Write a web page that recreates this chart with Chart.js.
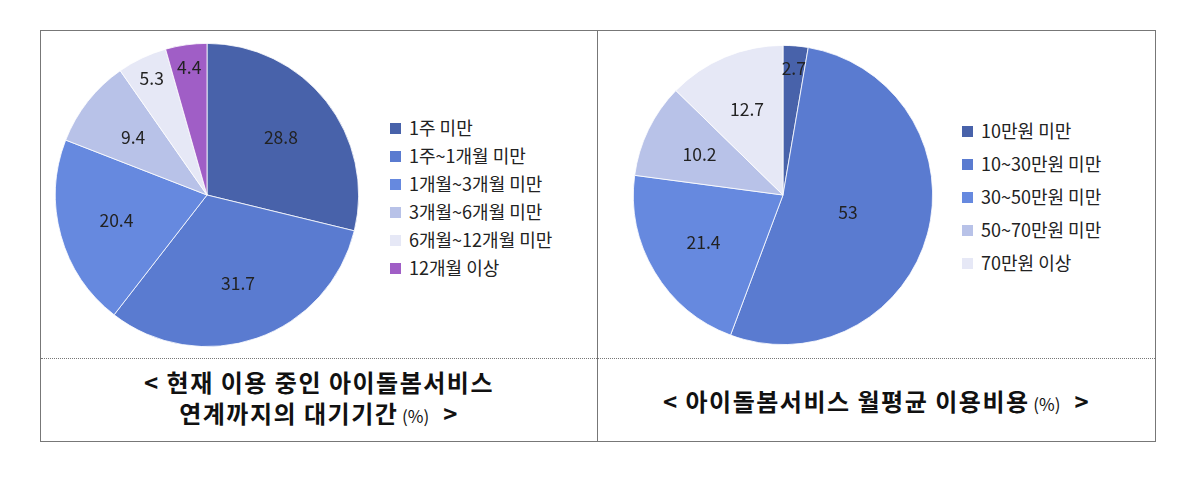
<!DOCTYPE html><html><head><meta charset="utf-8">
<script src="https://cdn.jsdelivr.net/npm/chart.js@4"></script>
<style>
body{margin:0;background:#fff;font-family:"Noto Sans CJK KR",sans-serif;}
#box{position:absolute;left:40px;top:30px;width:1114px;height:410px;border:1px solid #777;}
#div{position:absolute;left:597px;top:30px;width:1px;height:411px;background:#777;}
#dot{position:absolute;left:41px;top:358px;width:1114px;border-top:1px dotted #777;}
.t{position:absolute;text-align:center;font-weight:bold;font-size:24px;letter-spacing:1.5px;color:#111;line-height:31px;}
.t small{font-size:17px;font-weight:normal;letter-spacing:0;}
.lg{position:absolute;font-size:18px;color:#222;}
.lg div{position:absolute;white-space:nowrap;}
.lg span{display:inline-block;width:11px;height:11px;margin-right:8px;vertical-align:1px;}
canvas{position:absolute;}
</style></head><body>
<div id="box"></div><div id="div"></div><div id="dot"></div>
<div class="t" style="left:41px;width:556px;top:366px">&lt; 현재 이용 중인 아이돌봄서비스<br>연계까지의 대기기간<small> (%)</small> &nbsp;&gt;</div>
<div class="t" style="left:598px;width:557px;top:385px">&lt; 아이돌봄서비스 월평균 이용비용<small> (%)</small> &nbsp;&gt;</div>
<div style="position:absolute;left:55px;top:43px;width:304px;height:304px"><canvas id="c1"></canvas></div>
<div style="position:absolute;left:633px;top:45px;width:300px;height:300px"><canvas id="c2"></canvas></div>
<div class="lg" id="l1" style="left:390px;top:114px"></div>
<div class="lg" id="l2" style="left:962px;top:117px"></div>
<script>
const waitLabels=["1주 미만","1주~1개월 미만","1개월~3개월 미만","3개월~6개월 미만","6개월~12개월 미만","12개월 이상"];
const waitValues=[28.8,31.7,20.4,9.4,5.3,4.4];
const waitColors=["#4862aa","#5a7bd0","#6689df","#b8c2e8","#e6e8f6","#a05ec6"];
const costLabels=["10만원 미만","10~30만원 미만","30~50만원 미만","50~70만원 미만","70만원 이상"];
const costValues=[2.7,53,21.4,10.2,12.7];
const costColors=["#4862aa","#5a7bd0","#6689df","#b8c2e8","#e6e8f6"];
const lbl={id:'lbl',afterDatasetsDraw(ch){const c=ch.ctx;ch.getDatasetMeta(0).data.forEach((a,i)=>{const v=ch.data.datasets[0].data[i];const m=(a.startAngle+a.endAngle)/2;const r=a.outerRadius*(v<6?0.85:(v>50?0.45:0.62));c.save();c.font='17.5px "Noto Sans CJK KR"';c.fillStyle='#222';c.textAlign='center';c.textBaseline='middle';c.fillText(String(v),a.x+Math.cos(m)*r,a.y+Math.sin(m)*r);c.restore();});}};
function mk(id,L,V,C,lg,gap){new Chart(document.getElementById(id),{type:'pie',data:{labels:L,datasets:[{data:V,backgroundColor:C,borderColor:'#ffffff',borderWidth:0.8}]},options:{responsive:true,maintainAspectRatio:false,animation:false,plugins:{legend:{display:false},tooltip:{enabled:false}}},plugins:[lbl]});
const e=document.getElementById(lg);L.forEach((t,i)=>{const d=document.createElement('div');d.style.top=(i*gap)+'px';d.innerHTML='<span style="background:'+C[i]+'"></span>'+t;e.appendChild(d);});}
mk('c1',waitLabels,waitValues,waitColors,'l1',28);
mk('c2',costLabels,costValues,costColors,'l2',33);
</script></body></html>
